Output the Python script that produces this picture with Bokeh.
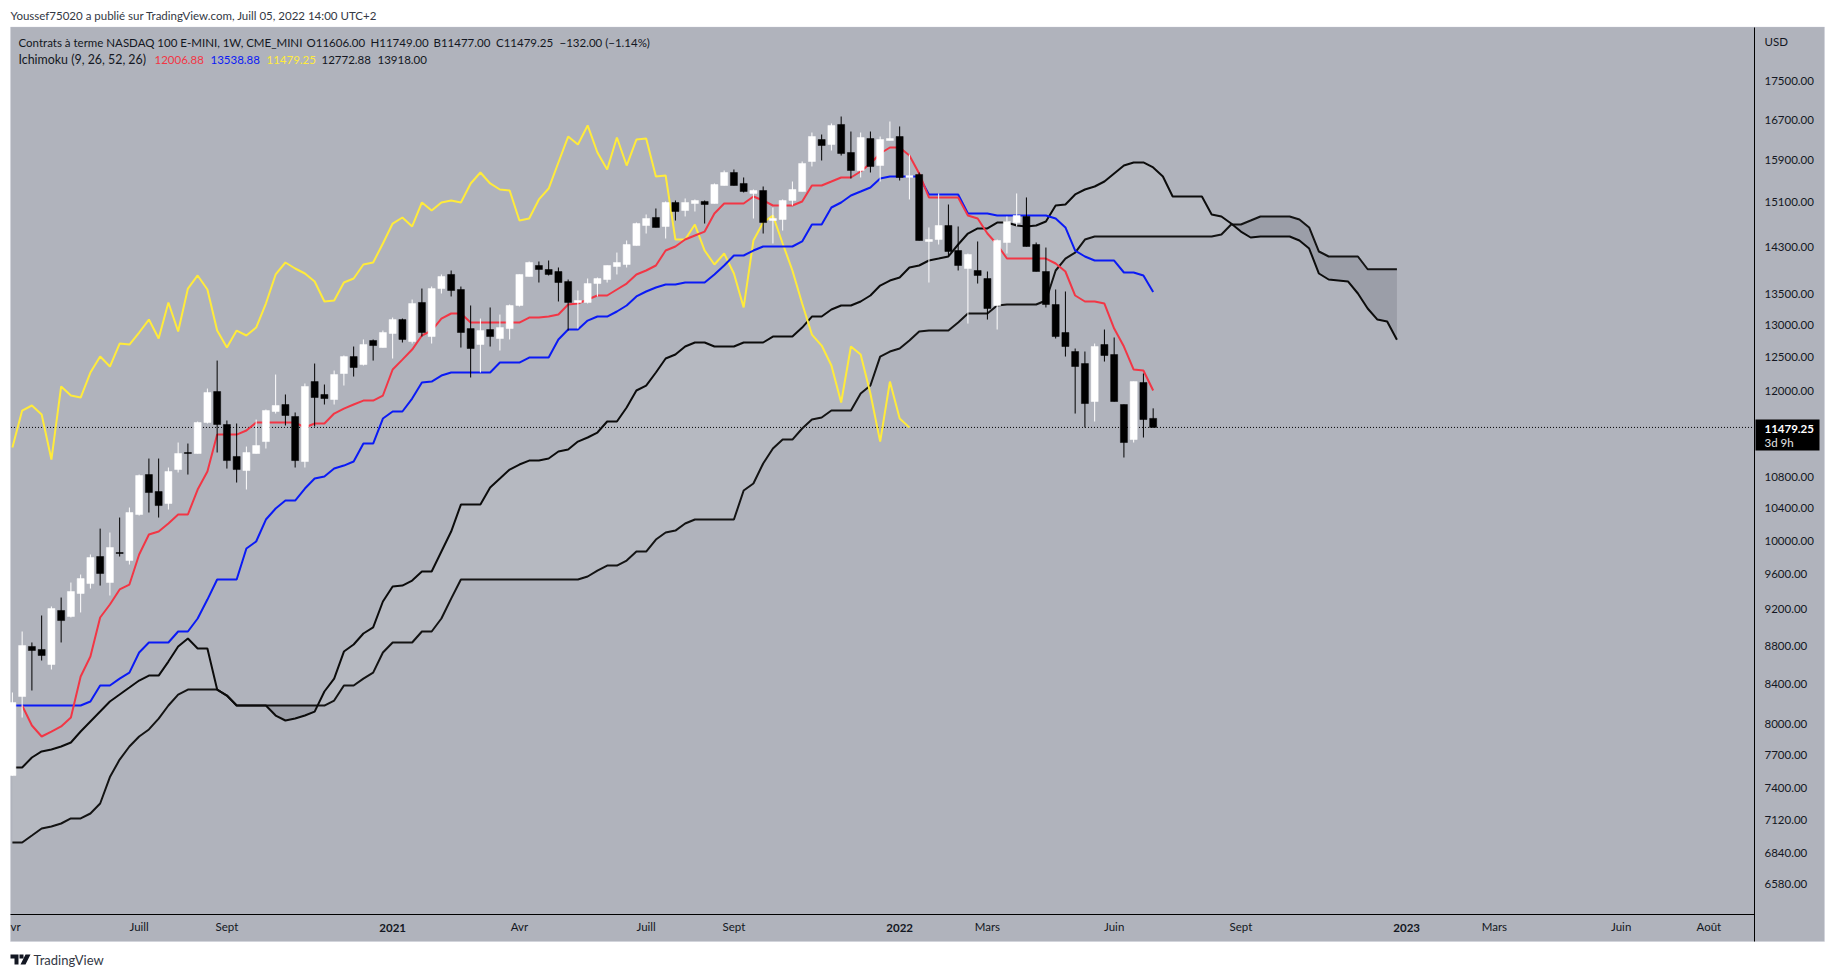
import numpy as np
from bokeh.plotting import figure
from bokeh.models import (ColumnDataSource, FixedTicker, PrintfTickFormatter, Label,
                          BoxAnnotation, PolyAnnotation, Range1d)
from bokeh.embed import file_html
from bokeh.resources import INLINE

highs = [8312,8953,8834,9129,9230,9331,9503,9596,9833,10148,
10100,10286,10412,10839,11052,11052,10932,11270,11256,11562,
12036,12453,11576,11534,11215,11590,11732,12243,11949,11690,
12110,12408,12095,12303,12530,12668,12777,12777,12917,13123,
13107,13414,13595,13628,13830,13897,13628,13317,13107,13285,
13171,13333,13830,14050,14050,14067,13948,13745,13562,13762,
13779,13982,14204,14414,14733,14878,14987,15116,15134,15171,
15153,15134,15451,15697,15716,15564,15338,15394,15005,15153,
15488,15870,16440,16400,16622,16764,16460,16440,16460,16360,
16662,16562,16006,15659,14645,15264,15060,14662,14187,14397,
13880,14431,14842,15264,15190,14379,14291,13579,13546,12637,
12591,12714,12933,12808,11804,12139,12258,11749]
lows = [7512,8062,8332,8642,8548,8834,9107,9163,9434,9468,
9354,9809,9714,10311,10349,10286,10387,10866,10839,11120,
11534,11134,10918,10734,10643,11120,11188,11675,11506,10932,
10932,11492,11804,11804,12080,12213,12378,12453,12652,12484,
12730,12714,12823,12714,13513,13464,12652,12199,12273,12668,
12606,12777,13301,13796,13695,13813,13382,12917,12948,13349,
13464,13695,13830,13948,14326,14537,14645,14449,14769,14842,
14932,14715,15079,15413,15413,15282,14805,14537,14362,14590,
15042,15300,15774,15889,16084,15986,15545,15564,15659,15488,
16281,15507,15153,14414,13695,14344,14136,13897,13027,13678,
13091,12933,14187,14662,14309,13880,13285,12792,12514,11675,
11478,11562,12438,11847,11066,11270,11339,11477]
opens = [7512,8271,8791,8759,8600,9185,9118,9377,9491,9809,
9503,9857,9761,10324,10839,10617,10463,10905,11134,11120,
11548,11992,11520,11080,10892,11120,11283,11704,11804,11633,
11012,12139,11949,11876,12258,12514,12393,12761,12652,12870,
13091,12745,13366,12823,13595,13830,13579,12948,12699,12933,
12792,12948,13317,13796,13982,13914,13880,13711,13366,13366,
13678,13745,13965,13999,14326,14680,14824,14662,15097,14950,
15079,15116,15079,15413,15659,15451,15264,15319,14769,14787,
15134,15300,15870,16300,16202,16602,16045,15697,16320,15792,
16281,16360,15564,15621,14397,14431,14680,14239,13931,13897,
13762,13317,14379,14733,14842,14344,13880,13333,12886,12591,
12408,11847,12699,12545,11804,11311,12125,11606]
closes = [8211,8802,8748,8695,9207,9073,9400,9549,9797,9608,
9917,9845,10349,10826,10604,10437,10879,11120,11120,11548,
11978,11520,11025,10905,11134,11229,11718,11790,11647,11025,
12066,11905,11890,12243,12514,12348,12699,12683,12886,13091,
12777,13349,12886,13595,13796,13562,12886,12637,12917,12823,
12964,13317,13830,14033,13914,13830,13695,13366,13398,13678,
13762,13982,14033,14344,14715,14805,14645,15097,14932,15097,
15134,15060,15432,15659,15413,15300,15319,14733,14805,15134,
15338,15832,16360,16182,16582,16025,15697,16340,15774,16300,
16320,15564,15602,14414,14431,14680,14222,13982,14170,13813,
13268,14414,14751,14860,14309,13880,13333,12823,12668,12363,
11818,12668,12530,11847,11270,12139,11590,11479.25]
tenkan = [8181,7984,7878,7926,7975,8062,8475,8684,9107,9252,
9423,9480,9833,10075,10112,10211,10324,10324,10643,10879,
11380,11380,11380,11436,11548,11548,11548,11548,11548,11478,
11534,11534,11675,11746,11804,11861,11861,11934,12318,12468,
12621,12839,12917,13107,13188,13188,13043,13043,13043,13043,
13043,13043,13123,13123,13139,13171,13333,13349,13414,13480,
13480,13579,13678,13830,13897,13982,14239,14309,14431,14502,
14572,14896,15079,15079,15079,15208,15134,15042,15042,15042,
15116,15413,15413,15488,15564,15564,15678,15832,16025,16143,
16143,15986,15640,15190,15190,15190,15190,14860,14805,14537,
14344,14101,14101,14101,14101,14101,14016,13880,13480,13382,
13382,13349,12948,12668,12318,12303,12006.88]
kijun = [8181,8181,8181,8181,8181,8181,8181,8181,8221,8383,
8383,8454,8516,8727,8834,8834,8834,8953,8953,9096,
9308,9538,9538,9538,9905,9990,10261,10400,10501,10501,
10656,10786,10813,10918,10958,11012,11256,11256,11604,11704,
11704,11890,12125,12139,12228,12273,12273,12273,12273,12273,
12423,12423,12423,12499,12499,12499,12777,12933,12933,13075,
13139,13139,13220,13317,13464,13546,13612,13661,13661,13695,
13695,13695,13830,13982,14153,14153,14239,14309,14309,14309,
14309,14397,14697,14697,15005,15097,15227,15300,15375,15545,
15583,15583,15583,15583,15245,15245,15245,15245,14896,14896,
14896,14860,14860,14860,14860,14860,14860,14805,14645,14239,
14136,14067,14067,14067,13863,13863,13813,13538.88]
chikou = [11202,11718,11790,11661,11039,12066,11934,11905,12273,12514,
12363,12714,12699,12886,13091,12792,13366,12902,13595,13813,
13579,12917,12652,12917,12839,12964,13349,13830,14033,13931,
13846,13711,13382,13398,13695,13762,13999,14033,14362,14715,
14824,14662,15097,14950,15097,15134,15097,15451,15659,15451,
15338,15319,14769,14805,15153,15356,15851,16360,16202,16582,
16045,15716,16340,15792,16300,16320,15583,15602,14431,14431,
14697,14239,13999,14187,13846,13285,14414,14733,14860,14362,
13897,13349,12854,12683,12378,11833,12668,12545,11963,11283,
12139,11604,11479.25]
senkou_a = [7586,7586,7679,7736,7755,7783,7821,7926,8023,8121,
8221,8291,8362,8434,8485,8485,8631,8791,8877,8770,
8770,8342,8281,8181,8181,8181,8181,8082,8033,8052,
8082,8121,8322,8454,8737,8812,8931,8997,9286,9457,
9468,9526,9631,9631,9869,10112,10450,10450,10450,10669,
10786,10905,10972,11025,11025,11052,11147,11175,11283,11339,
11408,11562,11562,11761,12007,12080,12273,12484,12545,12668,
12730,12730,12668,12668,12668,12730,12730,12730,12823,12823,
12823,12964,13139,13139,13252,13317,13317,13382,13480,13645,
13728,13779,13948,13982,14067,14101,14136,14344,14537,14627,
14627,14733,14733,14680,14662,14680,14751,15042,15060,15245,
15338,15394,15488,15640,15792,15851,15851,15755,15583,15208,
15208,15208,15208,14878,14842,14715,14572,14467,14484,14484,
14484,14484,14414,14274,13846,13745,13728,13711,13513,13268,
13091,13059,12772.88]
senkou_b = [6924,6924,6983,7043,7060,7086,7130,7130,7173,7261,
7498,7660,7783,7878,7946,8052,8181,8291,8342,8342,
8342,8342,8281,8181,8181,8181,8181,8181,8181,8181,
8181,8181,8181,8231,8383,8383,8454,8516,8727,8834,
8834,8834,8953,8953,9096,9319,9538,9538,9538,9538,
9538,9538,9538,9538,9538,9538,9538,9538,9538,9573,
9643,9702,9702,9761,9869,9869,10014,10100,10124,10211,
10261,10261,10261,10261,10261,10630,10721,10985,11188,11311,
11311,11464,11590,11618,11718,11718,11718,11963,12080,12514,
12591,12637,12761,12902,12917,12917,12917,13043,13188,13188,
13188,13317,13333,13333,13333,13333,13398,13897,14101,14204,
14431,14484,14484,14484,14484,14484,14484,14484,14484,14484,
14484,14484,14484,14484,14519,14697,14697,14769,14842,14842,
14842,14842,14787,14645,14222,14136,14136,14136,14136,13918,
13918,13918,13918]

price_ticks = [17500,16700,15900,15100,14300,13500,13000,12500,12000,10800,10400,10000,
               9600,9200,8800,8400,8000,7700,7400,7120,6840,6580]
time_tick_bars = [0.32,13,22,52,65,74,100,113,126,152,165,174]
time_tick_labels = ["vr","Juill","Sept","Avr","Juill","Sept","Mars","Juin","Sept","Mars","Juin","Août"]
year_bars = [39,91,143]
year_labels = ["2021","2022","2023"]
last_price = 11479.25

assert len(highs)==len(lows)==len(opens)==len(closes)==118
assert len(tenkan)==117 and len(kijun)==118 and len(chikou)==93
assert len(senkou_a)==143 and len(senkou_b)==143

BG = "#B0B3BC"
TXT = "#131722"
FONT = "Lato"
FS = "11.5px"

# the frame fills the whole figure: page pixels = canvas pixels
p = figure(width=1830, height=972, output_backend="svg", toolbar_location=None,
           y_axis_type="log", y_axis_location="right",
           x_range=Range1d(-1.2205, 186.47), y_range=Range1d(5910, 19308),
           min_border_left=0, min_border_right=0, min_border_top=0, min_border_bottom=0,
           background_fill_color="white", border_fill_color="white", outline_line_color=None)
p.grid.visible = False

CANVAS = dict(left_units="canvas", right_units="canvas", top_units="canvas", bottom_units="canvas")
p.add_layout(BoxAnnotation(left=10, right=1824, top=26.5, bottom=941, fill_color=BG, fill_alpha=1,
                           line_color="#C6C9D6", line_width=1, level="underlay", **CANVAS))

# axes
y = p.yaxis[0]
y.fixed_location = 178.677
y.bounds = (6137, 18690)
y.ticker = FixedTicker(ticks=price_ticks)
y.formatter = PrintfTickFormatter(format="%.2f")
y.major_tick_line_color = None
y.minor_tick_line_color = None
y.major_tick_in = 0
y.major_tick_out = 0
y.minor_tick_out = 0
y.axis_line_color = "black"
y.major_label_standoff = 10
y.major_label_text_font = FONT
y.major_label_text_font_size = FS
y.major_label_text_color = TXT

x = p.xaxis[0]
x.fixed_location = 6342
x.bounds = (-0.144, 178.677)
x.ticker = FixedTicker(ticks=time_tick_bars)
x.major_label_overrides = {t: l for t, l in zip(time_tick_bars, time_tick_labels)}
x.major_tick_line_color = None
x.minor_tick_line_color = None
x.major_tick_in = 0
x.major_tick_out = 0
x.minor_tick_out = 0
x.axis_line_color = "black"
x.major_label_standoff = 5
x.major_label_text_font = FONT
x.major_label_text_font_size = FS
x.major_label_text_color = TXT

# cloud
cx = np.arange(143.0)
fine_x = np.linspace(0, 142, 142 * 24 + 1)
fa = np.exp(np.interp(fine_x, cx, np.log(senkou_a)))
fb = np.exp(np.interp(fine_x, cx, np.log(senkou_b)))
top = np.maximum(fa, fb)
p.varea(x=fine_x, y1=fb, y2=top, fill_color="#B6B9C1", fill_alpha=1)
p.varea(x=fine_x, y1=fa, y2=top, fill_color="#9B9EA8", fill_alpha=1)

# last price line
p.line(x=[-0.144, 178.677], y=[last_price, last_price], line_color="black", line_width=1, line_dash="1 2")

# ichimoku lines
LW = 2
p.line(np.arange(143), senkou_b, line_color="#141414", line_width=LW)
p.line(np.arange(143), senkou_a, line_color="#0C0C0C", line_width=LW)
p.line(np.arange(93), chikou, line_color="#FFEB3B", line_width=LW)
p.line(np.arange(118), kijun, line_color="#0A1AF5", line_width=LW)
p.line(np.arange(1, 118), tenkan, line_color="#F23645", line_width=LW)

# candles
colors = ["white" if c >= o else "black" for o, c in zip(opens, closes)]
src = ColumnDataSource(dict(x=np.arange(118), h=highs, l=lows, o=opens, c=closes, col=colors))
p.segment(x0="x", x1="x", y0="l", y1="h", line_color="col", line_width=1, source=src)
p.vbar(x="x", width=0.72, top="o", bottom="c", fill_color="col", line_color="col", line_width=0.5, source=src)

# price tag
p.add_layout(BoxAnnotation(left=1755, right=1819, top=419, bottom=450, fill_color="black", fill_alpha=1,
                           line_color=None, **CANVAS))

def lab(px, py, text, color=TXT, size=FS, style="normal", font=FONT):
    p.add_layout(Label(x=px, y=py, x_units="canvas", y_units="canvas", text=text,
                       text_color=color, text_font_size=size, text_font_style=style, text_font=font,
                       text_baseline="middle", text_align="left"))

lab(1764, 428, "11479.25", "white", FS, "bold")
lab(1764, 442, "3d 9h", "#E6E6E6")
lab(1764, 41, "USD")

for b, t in zip(year_bars, year_labels):
    p.add_layout(Label(x=b, y=927, x_units="data", y_units="canvas", text=t, text_color=TXT,
                       text_font_size=FS, text_font_style="bold", text_font=FONT,
                       text_baseline="middle", text_align="center"))

lab(10, 15, "Youssef75020 a publié sur TradingView.com, Juill 05, 2022 14:00 UTC+2", "#333844")
lab(18, 42, "Contrats à terme NASDAQ 100 E-MINI, 1W, CME_MINI")
lab(306, 42, "O11606.00")
lab(370, 42, "H11749.00")
lab(433, 42, "B11477.00")
lab(495.5, 42, "C11479.25")
lab(559, 42, "−132.00 (−1.14%)")
lab(18, 59, "Ichimoku (9, 26, 52, 26)", size="12.4px")
lab(154, 59, "12006.88", "#F23645")
lab(210, 59, "13538.88", "#0A1AF5")
lab(266, 59, "11479.25", "#FFEB3B")
lab(321, 59, "12772.88")
lab(377, 59, "13918.00")

# TradingView mark and name
lab(33, 959, "TradingView", "#333844", "13px")
def poly(xs, ys):
    p.add_layout(PolyAnnotation(xs=xs, ys=ys, xs_units="canvas", ys_units="canvas",
                                fill_color="#131722", fill_alpha=1, line_color=None))
poly([10, 18, 18, 14, 14, 10], [954, 954, 964, 964, 958, 958])
poly([19, 23, 23, 19], [954, 954, 958, 958])
poly([25, 30, 25, 20], [954, 954, 964, 964])

open("out.html", "w").write(file_html(p, INLINE))
